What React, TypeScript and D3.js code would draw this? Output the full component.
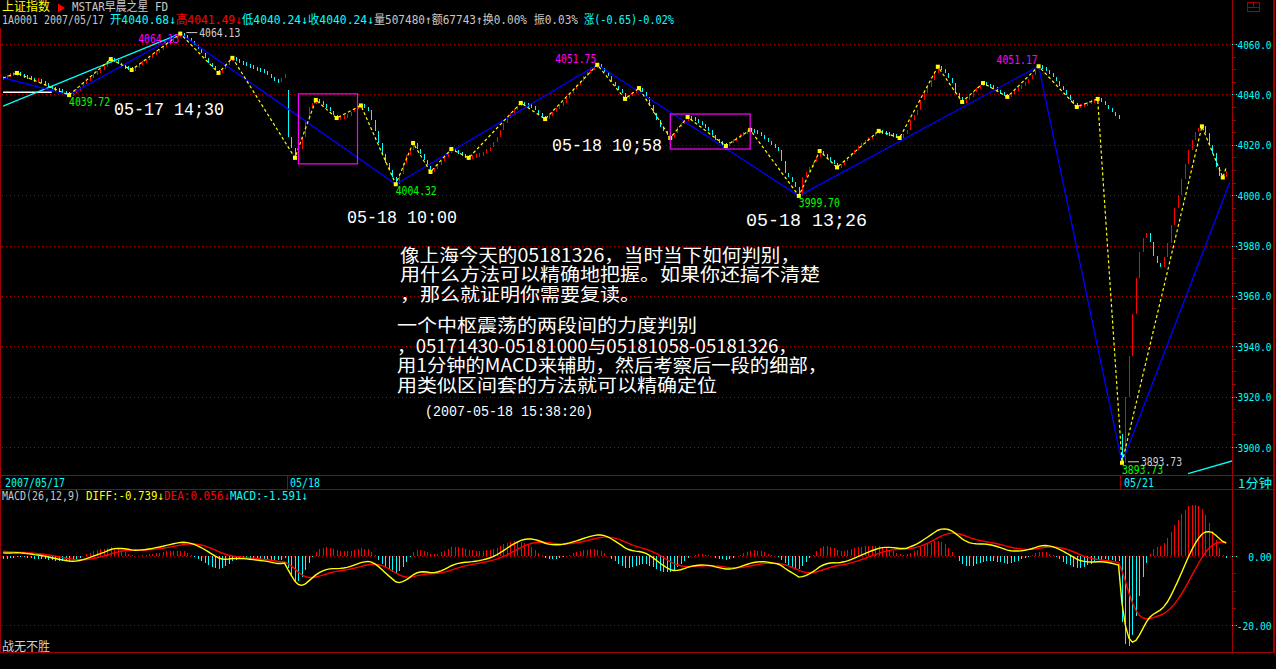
import * as d3 from "d3";

// ---- 1-minute closes, Shanghai Composite ----
// 05/17 afternoon (last 82 minutes)
const closes0517 = [
  4046.5, 4047.2, 4047.8, 4048.0, 4048.5, 4047.6, 4047.0, 4046.8, 4046.2, 4045.6,
  4045.9, 4045.0, 4044.3, 4043.2, 4042.6, 4042.0, 4041.4, 4040.9, 4040.3, 4039.72,
  4040.8, 4041.6, 4043.0, 4044.2, 4045.7, 4046.6, 4047.9, 4049.0, 4049.7, 4051.0,
  4052.6, 4054.0, 4053.2, 4052.4, 4051.3, 4050.8, 4050.2, 4049.7, 4050.6, 4051.8,
  4053.0, 4053.6, 4055.0, 4055.8, 4057.0, 4057.6, 4059.0, 4060.4, 4061.2, 4062.3,
  4063.0, 4064.13, 4063.4, 4062.2, 4061.0, 4059.8, 4058.0, 4056.6, 4054.5, 4052.5,
  4051.0, 4049.6, 4048.5, 4050.2, 4051.8, 4053.4, 4054.5, 4053.6, 4052.8, 4052.2,
  4051.6, 4051.0, 4050.5, 4050.0, 4049.4, 4048.8, 4048.0, 4046.8, 4045.7, 4045.3,
  4046.5, 4048.2,
];
const open0518 = 4041.7;
const closes0518 = [
  4023.0, 4018.7, 4014.8, 4018.5, 4023.0, 4029.8, 4035.0, 4036.5, 4037.8, 4036.9,
  4036.0, 4035.0, 4033.4, 4031.8, 4030.6, 4031.0, 4031.3, 4031.8, 4033.0, 4034.6,
  4035.0, 4035.6, 4034.8, 4033.8, 4029.8, 4025.5, 4020.7, 4016.5, 4012.8, 4009.8,
  4007.2, 4004.32, 4008.5, 4012.8, 4016.0, 4018.0, 4020.7, 4018.5, 4016.2, 4014.0,
  4011.5, 4009.2, 4010.5, 4012.0, 4013.6, 4015.0, 4016.8, 4018.3, 4017.5, 4016.7,
  4016.0, 4015.3, 4014.8, 4015.2, 4015.6, 4016.0, 4017.0, 4018.0, 4019.0, 4021.0,
  4023.0, 4025.8, 4028.6, 4030.6, 4032.6, 4034.0, 4035.4, 4036.6, 4036.0, 4035.5,
  4035.0, 4033.8, 4032.6, 4031.4, 4030.2, 4031.6, 4033.0, 4034.2, 4035.4, 4036.6,
  4038.6, 4040.5, 4042.1, 4043.7, 4045.5, 4047.2, 4048.6, 4049.8, 4050.8, 4051.75,
  4050.5, 4049.0, 4047.2, 4045.0, 4043.4, 4041.8, 4040.5, 4038.2, 4039.6, 4041.0,
  4041.8, 4042.5, 4041.0, 4039.0, 4035.8, 4032.6, 4029.8, 4027.0, 4025.5, 4024.0,
  4022.7, 4024.8, 4027.0, 4028.4, 4029.8, 4031.0, 4030.4, 4029.7, 4029.0, 4028.0,
  4026.9, 4025.9, 4024.0, 4022.0, 4021.2, 4020.3, 4019.5, 4020.8, 4022.0, 4022.9,
  4023.8, 4024.7, 4025.3, 4025.9, 4025.3, 4024.6, 4024.0, 4022.5, 4021.0, 4020.0,
  4019.0, 4018.0, 4013.4, 4008.8, 4007.0, 4005.2, 4003.3, 3999.7, 4007.0, 4009.0,
  4011.0, 4013.0, 4015.0, 4017.5, 4016.2, 4015.0, 4013.8, 4012.7, 4011.0, 4012.3,
  4013.6, 4015.0, 4016.5, 4018.0, 4019.3, 4020.7, 4021.7, 4022.7, 4023.7, 4024.7,
  4025.5, 4025.0, 4024.5, 4024.0, 4023.5, 4023.1, 4022.7, 4024.3, 4026.0, 4030.0,
  4031.9, 4033.8, 4037.8, 4040.4, 4043.0, 4045.8, 4048.5, 4051.0, 4049.8, 4048.5,
  4046.5, 4044.5, 4040.5, 4038.8, 4037.0, 4038.0, 4039.0, 4040.8, 4042.5, 4043.5,
  4044.5, 4043.8, 4043.2, 4042.5, 4041.5, 4040.5, 4039.8, 4039.0, 4040.3, 4041.7,
  4042.6, 4043.5, 4044.5, 4046.1, 4047.7, 4049.4, 4051.17, 4050.4, 4049.7, 4048.3,
  4047.0, 4045.2, 4043.4, 4041.7, 4039.8, 4037.8, 4036.4, 4035.0, 4035.5, 4036.0,
  4036.6, 4037.1, 4037.6, 4038.2, 4037.0, 4035.8, 4034.4, 4033.0, 4031.8, 4030.6,
];
const open0521 = 3905.0;
const closes0521 = [
  3893.73, 3920.0, 3936.0, 3953.0, 3967.0, 3977.5, 3983.0, 3985.0, 3981.5, 3976.0,
  3973.0, 3971.5, 3975.5, 3981.0, 3988.0, 3995.0, 4000.0, 4006.5, 4012.5, 4018.0,
  4022.0, 4025.0, 4026.7, 4027.3, 4024.5, 4020.0, 4016.7, 4011.0, 4007.5, 4007.0,
  4009.5,
];

// [minute index from 05/18 09:31, price]
const segmentVertices: [number, number][] = [
  [-82, 4046.6], [-63, 4039.72], [-31, 4064.13], [31, 4004.32], [89, 4051.75],
  [147, 3999.7], [216, 4051.17], [240, 3893.73], [271, 4005.0],
];
const strokeVertices: [number, number][] = [
  [-82, 4046.5], [-78, 4048.5], [-63, 4039.72], [-51, 4054.0], [-45, 4049.7],
  [-31, 4064.13], [-20, 4048.5], [-16, 4054.5], [2, 4014.8], [8, 4037.8],
  [14, 4030.6], [21, 4035.6], [31, 4004.32], [36, 4020.7], [41, 4009.2],
  [47, 4018.3], [52, 4014.8], [67, 4036.6], [74, 4030.2], [89, 4051.75],
  [97, 4038.2], [101, 4042.5], [110, 4022.7], [115, 4031.0], [126, 4019.5],
  [133, 4025.9], [147, 3999.7], [153, 4017.5], [158, 4011.0], [170, 4025.5],
  [176, 4022.7], [187, 4051.0], [194, 4037.0], [200, 4044.5], [207, 4039.0],
  [216, 4051.17], [227, 4035.0], [233, 4038.2], [240, 3893.73], [263, 4027.3],
  [269, 4007.0], [270, 4011.0],
];
const trendLines: [number, number][][] = [
  [[-82, 4035.3], [-31, 4064.13]],
  [[259, 3889.4], [272, 3894.6]],
];
const centerBoxes = [
  { from: 3, to: 20, top: 4040.2, bottom: 4012.4 },
  { from: 110, to: 133, top: 4032.2, bottom: 4018.3 },
];
const prevClose = { from: -82, to: -68, price: 4040.89 };
const highLabels: [number, number][] = [[-31, 4064.13], [89, 4051.75], [216, 4051.17]];
const lowLabels: [number, number][] = [[-63, 4039.72], [31, 4004.32], [147, 3999.7], [240, 3893.73]];
const macdSeed = { diff: 1.0, dea: 1.5 };

const priceTicks = [4060, 4040, 4020, 4000, 3980, 3960, 3940, 3920, 3900];
const macdTicks = [0, -20];
const dayLabels: [number, string][] = [[-82, "2007/05/17"], [0, "05/18"], [240, "05/21"]];

const headerTop = [{ t: "上证指数", c: "#ffff00" }];
const headerName = [{ t: "MSTAR早晨之星 FD", c: "#c8c8c8" }];
const headerInfo = [
  { t: "1A0001 2007/05/17 ", c: "#c8c8c8" },
  { t: "开4040.68↓", c: "#00ffff" },
  { t: "高4041.49↓", c: "#ff0000" },
  { t: "低4040.24↓", c: "#00ffff" },
  { t: "收4040.24↓", c: "#00ffff" },
  { t: "量507480↑额67743↑换0.00% 振0.03% ", c: "#c8c8c8" },
  { t: "涨(-0.65)-0.02%", c: "#00ffff" },
];
const macdHeader = [
  { t: "MACD(26,12,9) ", c: "#c8c8c8" },
  { t: "DIFF:-0.739↓", c: "#ffff00" },
  { t: "DEA:0.056↓", c: "#ff0000" },
  { t: "MACD:-1.591↓", c: "#00ffff" },
];
const noteLines = [
  "像上海今天的05181326，当时当下如何判别，",
  "用什么方法可以精确地把握。如果你还搞不清楚",
  "，那么就证明你需要复读。",
  "一个中枢震荡的两段间的力度判别",
  "，05171430-05181000与05181058-05181326，",
  "用1分钟的MACD来辅助，然后考察后一段的细部，",
  "用类似区间套的方法就可以精确定位",
];
const noteStamp = "(2007-05-18 15:38:20)";

const RED = "#ff0000";
const CYAN = "#00ffff";
const YELLOW = "#ffff00";
const GRID = "#b00000";
const BORDER = "#a00000";
const MONO = "'DejaVu Sans Mono', 'Noto Sans CJK SC', monospace";
const THIN = "'Liberation Mono', 'DejaVu Sans Mono', monospace";
const CJK = "'Noto Sans CJK SC', sans-serif";

const unitW = (ch: string) => (ch.charCodeAt(0) > 0x2000 ? 2 : 1);
const gridLen = (s: string, u: number) =>
  Array.from(s).reduce((a, ch) => a + unitW(ch) * u, 0);

function Runs({ runs, x, y, u = 6, size = 12, family = MONO }: any) {
  let cx = x;
  return (
    <g>
      {runs.map((r: any, k: number) => {
        const txt = r.t.trimEnd();
        const el = (
          <text key={k} x={cx} y={y} fill={r.c} fontSize={size} fontFamily={family}
            textLength={gridLen(txt, u)} lengthAdjust="spacingAndGlyphs" style={{ whiteSpace: "pre" }}>
            {txt}
          </text>
        );
        cx += gridLen(r.t, u);
        return el;
      })}
    </g>
  );
}

export default function App() {
  const x = d3.scaleLinear().domain([0, 240]).range([288, 1122]);
  const y = d3.scaleLinear().domain([3900, 4060]).range([447, 44]);
  const ym = d3.scaleLinear().domain([0, -20]).range([556, 625.4]);

  const closes = [...closes0517, ...closes0518, ...closes0521];
  const n17 = closes0517.length;
  const bars = closes.map((c, k) => {
    const i = k - n17;
    const o = i === 0 ? open0518 : i === 240 ? open0521 : k === 0 ? c : closes[k - 1];
    return { i, o, c };
  });

  // MACD(26,12,9) from the closes
  let e12 = closes[0] + 0.3;
  let e26 = e12 - macdSeed.diff;
  let dea = macdSeed.dea;
  const macd = bars.map((b) => {
    e12 += ((b.c - e12) * 2) / 13;
    e26 += ((b.c - e26) * 2) / 27;
    const diff = e12 - e26;
    dea += ((diff - dea) * 2) / 10;
    return { i: b.i, diff, dea, hist: 2 * (diff - dea) };
  });

  const pLine = d3.line<[number, number]>().x((d) => x(d[0])).y((d) => y(d[1]));
  const mLine = (key: "diff" | "dea") =>
    d3.line<any>().x((d) => x(d.i)).y((d) => ym(d[key]))(macd) || "";

  const hi = bars[d3.maxIndex(bars, (b) => b.c)];
  const lo = bars[d3.minIndex(bars, (b) => b.c)];

  const minor = d3.range(3900, 4061, 5);
  const macdMinor = d3.range(-20, 1, 5);

  return (
    <svg width={1276} height={669} style={{ position: "fixed", left: 0, top: 0, background: "#000" }}>
      <rect width={1276} height={669} fill="#000" />
      <defs>
        <clipPath id="pclip">
          <rect x={1} y={28} width={1231} height={447} />
        </clipPath>
        <clipPath id="mclip">
          <rect x={1} y={505} width={1231} height={147} />
        </clipPath>
      </defs>

      {/* header */}
      <Runs runs={headerTop} x={2} y={11} />
      <path d="M58,3.5 L65,8 L58,12.5 Z" fill={RED} />
      <Runs runs={headerName} x={72} y={11} />
      <Runs runs={headerInfo} x={2} y={24} />

      {/* frame */}
      <g stroke={BORDER} fill="none" shapeRendering="crispEdges">
        <line x1={0.5} x2={0.5} y1={28} y2={653} />
        <line x1={1232.5} x2={1232.5} y1={0} y2={653} />
        <line x1={1274} x2={1274} y1={0} y2={653} strokeWidth={2} />
        <line x1={0} x2={1275} y1={475.5} y2={475.5} />
        <line x1={0} x2={1275} y1={489.5} y2={489.5} />
        <line x1={0} x2={1275} y1={652.5} y2={652.5} />
        <line x1={x(0) - 0.5} x2={x(0) - 0.5} y1={476} y2={489} />
        <line x1={x(240) - 1.5} x2={x(240) - 1.5} y1={476} y2={489} />
        <rect x={1247.5} y={2.5} width={12} height={9} />
        <line x1={1247.5} x2={1259.5} y1={7} y2={7} />
        <line x1={1253.5} x2={1253.5} y1={2.5} y2={7} />
      </g>

      {/* price grid + axis */}
      <g shapeRendering="crispEdges">
        {priceTicks.map((p) => (
          <g key={p}>
            <line x1={2} x2={1231} y1={Math.round(y(p)) + 0.5} y2={Math.round(y(p)) + 0.5}
              stroke={GRID} strokeDasharray="1,3" />
            <line x1={1232} x2={1237} y1={Math.round(y(p)) + 0.5} y2={Math.round(y(p)) + 0.5} stroke={CYAN} />
          </g>
        ))}
        {minor.map((p) => (
          <line key={p} x1={1233} x2={1236} y1={Math.round(y(p)) + 0.5} y2={Math.round(y(p)) + 0.5} stroke={BORDER} />
        ))}
      </g>
      {priceTicks.map((p) => (
        <text key={p} x={1237.5} y={y(p) + 4.5} fill={CYAN} fontSize={10.5} fontFamily={MONO}
          textLength={34} lengthAdjust="spacingAndGlyphs">
          {p.toFixed(1)}
        </text>
      ))}

      {/* price panel */}
      <g clipPath="url(#pclip)">
        <g shapeRendering="crispEdges">
          {bars.map((b) => {
            const bx = Math.round(x(b.i)) + 0.5;
            let y1 = y(Math.max(b.o, b.c));
            let y2 = y(Math.min(b.o, b.c));
            if (y2 - y1 < 4) {
              const m = (y1 + y2) / 2;
              y1 = m - 2;
              y2 = m + 2;
            }
            return <line key={b.i} x1={bx} x2={bx} y1={y1} y2={y2} stroke={b.c >= b.o ? RED : CYAN} />;
          })}
        </g>
        <line x1={x(prevClose.from)} x2={x(prevClose.to)} y1={y(prevClose.price)} y2={y(prevClose.price)}
          stroke="#fff" strokeWidth={1.5} />
        {trendLines.map((t, k) => (
          <path key={k} d={pLine(t) || ""} stroke={CYAN} strokeWidth={1.3} fill="none" />
        ))}
        <path d={pLine(segmentVertices) || ""} stroke="#0000ff" strokeWidth={1.3} fill="none" />
        <path d={pLine(strokeVertices) || ""} stroke={YELLOW} strokeWidth={1.2} strokeDasharray="3,2.5" fill="none" />
        {strokeVertices.slice(1, -1).map((v, k) => (
          <rect key={k} x={x(v[0]) - 2} y={y(v[1]) - 2} width={4} height={4} fill={YELLOW} />
        ))}
        {centerBoxes.map((b, k) => (
          <rect key={k} x={x(b.from)} y={y(b.top)} width={x(b.to) - x(b.from)} height={y(b.bottom) - y(b.top)}
            fill="none" stroke="#ff00ff" strokeWidth={1.2} />
        ))}
        {highLabels.map(([i, p]) => (
          <text key={i} x={x(i) - 1} y={Math.max(y(p) - 2, 43)} textAnchor="end" fill="#ff00ff"
            fontSize={12} fontFamily={MONO} textLength={41} lengthAdjust="spacingAndGlyphs">
            {p.toFixed(2)}
          </text>
        ))}
        {lowLabels.map(([i, p]) => (
          <text key={i} x={x(i)} y={y(p) + 11} fill="#00ff00" fontSize={12} fontFamily={MONO}
            textLength={41} lengthAdjust="spacingAndGlyphs">
            {p.toFixed(2)}
          </text>
        ))}
        {[hi, lo].map((b, k) => (
          <g key={k}>
            <line x1={x(b.i) + 6} x2={x(b.i) + 17} y1={y(b.c) - 1} y2={y(b.c) - 1} stroke="#d0d0d0" />
            <text x={x(b.i) + 19} y={y(b.c) + 3} fill="#d0d0d0" fontSize={12} fontFamily={MONO}
              textLength={41} lengthAdjust="spacingAndGlyphs">
              {b.c.toFixed(2)}
            </text>
          </g>
        ))}
      </g>

      {/* annotations */}
      <g fill="#fff" fontFamily={THIN} fontSize={19} style={{ whiteSpace: "pre" }}>
        <text x={114} y={115} textLength={110} lengthAdjust="spacingAndGlyphs">05-17 14;30</text>
        <text x={347} y={223} textLength={110} lengthAdjust="spacingAndGlyphs">05-18 10:00</text>
        <text x={552} y={151} textLength={110} lengthAdjust="spacingAndGlyphs">05-18 10;58</text>
        <text x={746} y={226} textLength={121} lengthAdjust="spacingAndGlyphs">05-18  13;26</text>
      </g>
      <g fill="#fff" fontFamily={CJK} fontSize={18}>
        {noteLines.map((s, k) => (
          <text key={k} x={k < 3 ? 400 : 397} y={[262, 281, 301, 332, 353, 372, 392][k]}
            textLength={gridLen(s, 10)} lengthAdjust="spacingAndGlyphs">
            {s}
          </text>
        ))}
        <text x={425} y={416} fontSize={15} fontFamily={THIN} textLength={gridLen(noteStamp, 8)}
          lengthAdjust="spacingAndGlyphs">
          {noteStamp}
        </text>
      </g>

      {/* time axis */}
      {dayLabels.map(([i, t]) => (
        <text key={t} x={Math.max(x(i) + 2, 3)} y={486.5} fill={CYAN} fontSize={12} fontFamily={MONO}
          textLength={gridLen(t, 6)} lengthAdjust="spacingAndGlyphs">
          {t}
        </text>
      ))}
      <text x={1238} y={487.5} fill={CYAN} fontSize={12} fontFamily={CJK} textLength={34} lengthAdjust="spacingAndGlyphs">
        1分钟
      </text>

      {/* MACD panel */}
      <Runs runs={macdHeader} x={2} y={500} />
      <g shapeRendering="crispEdges">
        {macdTicks.map((v) => (
          <g key={v}>
            <line x1={2} x2={1231} y1={Math.round(ym(v)) + 0.5} y2={Math.round(ym(v)) + 0.5}
              stroke={GRID} strokeDasharray="1,3" />
            <line x1={1232} x2={1237} y1={Math.round(ym(v)) + 0.5} y2={Math.round(ym(v)) + 0.5} stroke={CYAN} />
          </g>
        ))}
        {macdMinor.map((v) => (
          <line key={v} x1={1233} x2={1236} y1={Math.round(ym(v)) + 0.5} y2={Math.round(ym(v)) + 0.5} stroke={BORDER} />
        ))}
      </g>
      {macdTicks.map((v) => (
        <text key={v} x={1271.5} y={ym(v) + 4.5} textAnchor="end" fill={CYAN} fontSize={10.5} fontFamily={MONO}
          textLength={v.toFixed(2).length * 5.8} lengthAdjust="spacingAndGlyphs">
          {v.toFixed(2)}
        </text>
      ))}
      <g clipPath="url(#mclip)">
        <g shapeRendering="crispEdges">
          {macd.map((m) => (
            <line key={m.i} x1={Math.round(x(m.i)) + 0.5} x2={Math.round(x(m.i)) + 0.5}
              y1={ym(0)} y2={ym(m.hist)} stroke={m.hist >= 0 ? RED : CYAN} />
          ))}
        </g>
        <path d={mLine("dea")} stroke={RED} strokeWidth={1.4} fill="none" />
        <path d={mLine("diff")} stroke={YELLOW} strokeWidth={1.4} fill="none" />
      </g>
      <text x={2} y={651} fill="#d0d0d0" fontSize={12} fontFamily={CJK} textLength={48} lengthAdjust="spacingAndGlyphs">
        战无不胜
      </text>
    </svg>
  );
}
